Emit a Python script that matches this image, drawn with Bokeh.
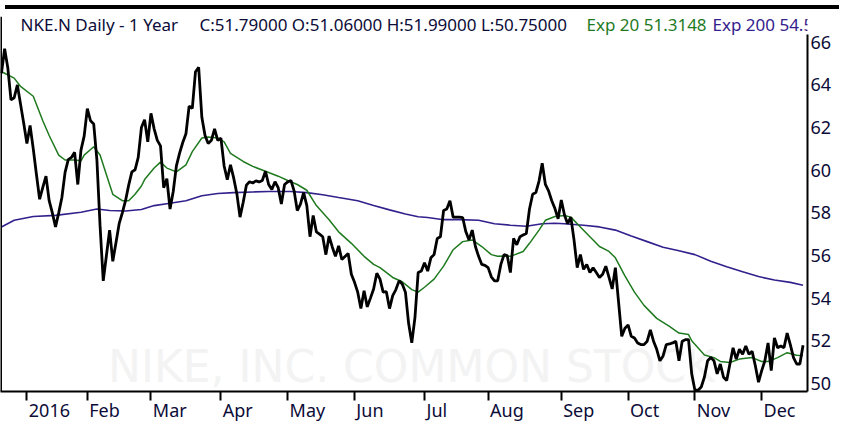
import numpy as np
import pandas as pd
from bokeh.plotting import figure
from bokeh.models import (Range1d, LinearAxis, FixedTicker, Label, Span, Div,
                          CustomLabelingPolicy)
from bokeh.layouts import column
from bokeh.embed import file_html
from bokeh.resources import INLINE

# ---------------- data ----------------
holidays = ["2015-12-25", "2016-01-01", "2016-01-18", "2016-02-15", "2016-03-25",
            "2016-05-30", "2016-07-04", "2016-09-05", "2016-11-24"]

close_dec15 = [64.55, 65.70, 64.80, 63.30, 63.40, 64.00, 63.10, 62.20]
close_jan = [61.25, 62.10, 61.00, 59.80, 58.64, 59.20, 59.72, 58.57, 58.00, 57.34,
             58.00, 58.72, 59.90, 60.50, 60.60, 60.84, 59.33, 60.94, 61.60]
close_feb = [62.89, 62.32, 62.17, 60.50, 57.40, 54.81, 56.00, 57.19, 55.73, 56.60,
             57.49, 58.00, 58.57, 59.30, 59.92, 60.02, 60.60, 62.00, 62.37, 61.33]
close_mar = [62.67, 61.94, 61.40, 61.14, 59.18, 59.60, 58.18, 59.00, 60.20, 60.80,
             61.30, 61.71, 63.01, 62.90, 64.62, 64.82, 62.48, 61.63, 61.25, 61.40,
             61.94, 61.40]
close_apr = [61.50, 60.20, 59.56, 60.25, 59.64, 58.90, 57.80, 58.50, 59.30, 59.46,
             59.40, 59.50, 59.45, 59.52, 59.95, 59.33, 59.10, 59.46, 59.18, 58.41,
             59.33]
close_may = [59.45, 59.52, 59.03, 58.11, 58.41, 58.95, 58.34, 56.88, 57.88, 57.11,
             57.00, 56.88, 56.04, 56.91, 56.40, 55.96, 56.45, 55.81, 55.95, 56.09,
             55.12]
close_jun = [54.74, 54.28, 53.51, 54.35, 53.59, 54.00, 54.43, 55.17, 54.89, 54.28,
             54.30, 53.51, 54.12, 54.40, 54.81, 54.66, 54.28, 52.82, 51.90, 53.10,
             55.20, 55.27]
close_jul = [55.66, 55.27, 55.89, 56.04, 56.80, 56.88, 58.11, 58.18, 58.57, 57.80,
             57.80, 57.80, 57.78, 57.11, 56.73, 57.19, 56.42, 55.96, 55.58, 55.54]
close_aug = [55.43, 55.00, 54.81, 54.81, 55.58, 56.04, 56.00, 55.20, 56.80, 56.50,
             56.88, 56.96, 57.03, 58.18, 58.87, 58.95, 59.49, 60.33, 59.33, 59.03,
             58.57, 58.20, 57.72]
close_sep = [58.60, 57.90, 57.49, 57.80, 56.73, 55.43, 56.04, 55.35, 55.58, 55.20,
             55.43, 55.20, 54.97, 55.12, 55.50, 54.97, 54.43, 55.43, 53.82, 52.21,
             52.59]
close_oct = [52.74, 52.21, 52.13, 51.90, 51.82, 51.82, 51.98, 52.51, 51.98, 51.60,
             51.06, 51.29, 51.82, 51.85, 51.90, 51.98, 51.06, 51.98, 52.05, 52.05,
             50.45]
close_nov = [49.68, 49.68, 49.83, 50.30, 51.06, 51.21, 51.06, 50.45, 50.91, 50.29,
             50.14, 50.91, 51.67, 51.14, 51.60, 51.37, 51.75, 51.37, 51.50, 50.83,
             50.06]
close_dec = [50.60, 51.06, 51.90, 50.60, 52.13, 51.67, 51.75, 51.67, 52.36, 51.82,
             51.21, 50.91, 50.91, 51.79]

# Exp 20 (green) read at trading-day numbers (0 = first day of 2016)
ema20_day = [-8, -7, -4, -2, 2, 5, 7, 10, 12, 15, 17, 18, 21, 23, 25, 27, 30, 32, 34, 36,
             37, 40, 42, 44, 47, 50, 52, 55, 57, 60, 62, 64, 68, 71, 75, 79, 82, 85, 88, 91,
             95, 98, 102, 106, 109, 111, 115, 118, 121, 123, 125, 128, 131, 134, 137, 140,
             143, 146, 148, 150, 152, 156, 158, 161, 163, 166, 169, 171, 174, 177, 180,
             183, 185, 188, 191, 194, 198, 202, 205, 208, 209, 213, 216, 218, 221, 224,
             228, 231, 233, 236, 239, 242, 244]
ema20_val = [64.62, 64.55, 64.32, 63.93, 63.47, 62.32, 61.63, 60.71, 60.48, 60.48, 60.44,
             60.71, 61.10, 60.71, 59.79, 58.87, 58.57, 58.57, 58.87, 59.26, 59.56, 60.10,
             60.38, 60.10, 59.92, 60.25, 60.87, 61.51, 61.56, 61.51, 61.33, 60.79, 60.41,
             60.18, 59.95, 59.72, 59.52, 59.33, 59.06, 58.34, 57.68, 57.11, 56.57, 55.96,
             55.58, 55.43, 54.97, 54.77, 54.40, 54.28, 54.51, 54.89, 55.50, 56.27, 56.65,
             56.73, 56.42, 56.04, 55.96, 55.98, 55.96, 56.19, 56.57, 57.19, 57.65, 57.83,
             57.88, 57.80, 57.34, 56.88, 56.42, 56.19, 55.89, 55.04, 54.28, 53.66, 53.05,
             52.67, 52.36, 52.29, 52.00, 51.33, 51.21, 51.03, 50.98, 51.14, 51.21, 51.03,
             51.03, 51.21, 51.44, 51.32, 51.31]

# Exp 200 (violet) read at trading-day numbers
ema200_day = [-8, -4, 2, 9, 17, 22, 26, 31, 36, 40, 45, 50, 55, 60, 65, 71, 76, 83, 88, 93,
              98, 104, 109, 114, 119, 123, 126, 131, 136, 142, 147, 152, 157, 162, 166,
              169, 175, 180, 185, 190, 195, 200, 205, 210, 215, 220, 225, 230, 235, 240, 244]
ema200_val = [57.34, 57.65, 57.83, 57.88, 58.03, 58.18, 58.11, 58.09, 58.16, 58.34, 58.45,
              58.57, 58.80, 58.91, 58.95, 58.98, 59.00, 59.00, 58.95, 58.85, 58.72, 58.57,
              58.34, 58.14, 57.95, 57.82, 57.78, 57.68, 57.68, 57.65, 57.49, 57.42, 57.37,
              57.49, 57.51, 57.49, 57.42, 57.34, 57.19, 56.91, 56.65, 56.39, 56.22, 56.04,
              55.73, 55.47, 55.24, 55.01, 54.85, 54.74, 54.60]

y_ticks = [50, 52, 54, 56, 58, 60, 62, 64, 66]
month_labels = ["2016", "Feb", "Mar", "Apr", "May", "Jun", "Jul", "Aug", "Sep", "Oct", "Nov", "Dec"]

header_main = "NKE.N Daily -  1 Year"
header_quote = "C:51.79000 O:51.06000 H:51.99000 L:50.75000"
header_exp20 = "Exp 20 51.3148"
header_exp200 = "Exp 200 54.568"
watermark = "NIKE, INC. COMMON STOCK"

closes = (close_dec15 + close_jan + close_feb + close_mar + close_apr + close_may + close_jun
          + close_jul + close_aug + close_sep + close_oct + close_nov + close_dec)

# ---------------- trading-day axis ----------------
days = pd.bdate_range("2015-12-21", "2016-12-20")
days = days[~days.isin(pd.to_datetime(holidays))]
origin = days.get_loc(pd.Timestamp("2016-01-04"))
xs = (np.arange(len(days)) - origin).tolist()
n = min(len(xs), len(closes))
xs, closes = xs[:n], closes[:n]
month_ticks = [int(np.arange(len(days))[(days.year == 2016) & (days.month == m)][0] - origin)
               for m in range(1, 13)]

# ---------------- styling ----------------
W, H = 834, 410
BAND = 4
FONT = "Noto Sans"
FS = 18
HFS = 17
NAVY = "#0c0c38"
GREEN = "#1f7a1f"
VIOLET = "#34208c"
X0, X1 = -8.3, 245.4
Y0, Y1 = 49.62, 67.21
AXIS_TOP = 66.36
RB = 24     # right border
TOP = 2     # top border
BOTTOM_EST = 28
ppu = (H - TOP - BOTTOM_EST) / (Y1 - Y0)

p = figure(width=W, height=H, output_backend="svg", toolbar_location=None,
           x_range=Range1d(X0, X1), y_range=Range1d(Y0, Y1),
           x_axis_location=None, y_axis_location=None,
           min_border_left=0, min_border_right=RB, min_border_top=TOP, min_border_bottom=0)
p.grid.visible = False
p.outline_line_color = None
p.background_fill_color = "white"
p.border_fill_color = "white"

# right price axis (its line stops below the header)
yax = LinearAxis(ticker=FixedTicker(ticks=y_ticks, minor_ticks=[]), bounds=(Y0, AXIS_TOP),
                 axis_line_color="black", axis_line_width=2,
                 major_tick_in=0, major_tick_out=0, minor_tick_in=0, minor_tick_out=0,
                 major_label_standoff=3, major_label_text_font=FONT,
                 major_label_text_font_size=f"{FS}px", major_label_text_color=NAVY)
p.add_layout(yax, "right")

# bottom axis: tick marks only, at month starts
no_labels = CustomLabelingPolicy(code="for (const i of indices) { indices.unset(i) } return indices")
xa = LinearAxis(ticker=FixedTicker(ticks=month_ticks, minor_ticks=[]), axis_line_color="black",
                axis_line_width=2, major_tick_in=0, major_tick_out=9, major_tick_line_width=2,
                minor_tick_in=0, minor_tick_out=0, major_label_standoff=0,
                major_label_policy=no_labels, major_label_text_font_size="1px")
p.add_layout(xa, "below")

# month names written just right of their tick marks
em = {"0": .572, "1": .572, "2": .572, "6": .572, "F": .522, "e": .561, "b": .613, "M": .907,
      "a": .561, "r": .408, "A": .639, "p": .613, "y": .501, "J": .268, "u": .613, "n": .613,
      "l": .268, "g": .613, "S": .549, "O": .779, "c": .480, "t": .361, "N": .752, "o": .603,
      "v": .501, "D": .720}
px_per_day = (W - RB) / (X1 - X0)
label_pos, overrides = [], {}
for t, lab in zip(month_ticks, month_labels):
    w = sum(em.get(ch, .6) for ch in lab) * FS
    pos = t + (2 + w / 2) / px_per_day
    label_pos.append(pos)
    overrides[pos] = lab
xb = LinearAxis(ticker=FixedTicker(ticks=label_pos, minor_ticks=[]), axis_line_color=None,
                major_tick_in=0, major_tick_out=0, minor_tick_in=0, minor_tick_out=0,
                major_label_standoff=-7, major_label_overrides=overrides,
                major_label_text_font=FONT, major_label_text_font_size=f"{FS}px",
                major_label_text_color=NAVY)
p.add_layout(xb, "below")

# watermark
p.add_layout(Label(x=25.5, y=50.77, text=watermark, text_font="DejaVu Sans",
                   text_font_size="44px", text_color="#f3f3f3", text_baseline="alphabetic",
                   level="underlay"))

# series
p.line(ema200_day, ema200_val, line_color=VIOLET, line_width=1.6)
p.line(ema20_day, ema20_val, line_color=GREEN, line_width=1.5)
p.line(xs, closes, line_color="black", line_width=2.8)

# left border
p.add_layout(Span(location=X0, dimension="height", line_color="black", line_width=3))

# header (inside the top strip of the frame)
hy = Y1 - 8 / ppu
for xpos, txt, col in [(20, header_main, NAVY), (199, header_quote, NAVY),
                       (586, header_exp20, GREEN), (712, header_exp200, VIOLET)]:
    p.add_layout(Label(x=xpos, y=hy, x_units="screen", y_units="data", text=txt,
                       text_font=FONT, text_font_size=f"{HFS}px", text_color=col,
                       text_baseline="alphabetic"))

band = Div(width=W, height=BAND, styles={"background-color": "black"})
layout = column(band, p, spacing=0)

open("out.html", "w").write(file_html(layout, INLINE))
